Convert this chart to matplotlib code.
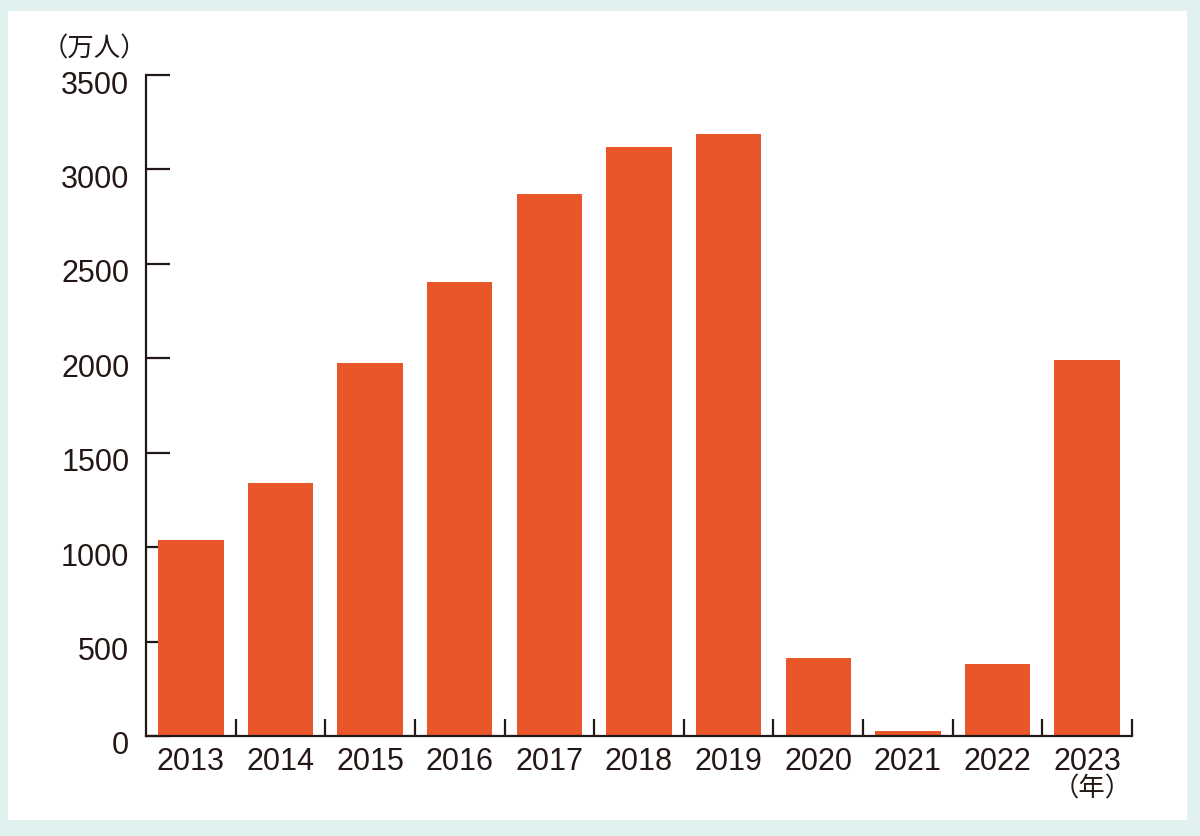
import matplotlib.pyplot as plt
import matplotlib.patches as mpatches
import matplotlib.transforms as mtransforms
import numpy as np

plt.rcParams['font.family'] = ['Liberation Sans', 'Noto Sans CJK JP', 'DejaVu Sans']

years = ['2013', '2014', '2015', '2016', '2017', '2018', '2019', '2020', '2021', '2022', '2023']
visitors = [1036, 1341, 1974, 2404, 2869, 3119, 3188, 412, 25, 383, 1991]  # 万人
yticks = [0, 500, 1000, 1500, 2000, 2500, 3000, 3500]

bar_color = '#E8562A'
bg_color = '#E1F1EF'
ink = '#231815'

fig = plt.figure(figsize=(12, 8.36), dpi=100)
fig.patch.set_facecolor(bg_color)
# white panel behind the chart
fig.patches.append(mpatches.Rectangle((8 / 1200, 16 / 836), 1179 / 1200, 809 / 836,
                                      transform=fig.transFigure, facecolor='white',
                                      edgecolor='none', zorder=-10))

ax = fig.add_axes([146 / 1200, 1 - 736 / 836, 986 / 1200, 661 / 836])
ax.set_facecolor('none')
ax.set_zorder(5)

x = np.arange(len(years))
ax.bar(x, visitors, width=0.73, color=bar_color, zorder=2)

ax.set_xlim(-0.5, len(years) - 0.5)
ax.set_ylim(0, 3500)

for s in ['top', 'right']:
    ax.spines[s].set_visible(False)
for s in ['left', 'bottom']:
    ax.spines[s].set_linewidth(1.6)
    ax.spines[s].set_color(ink)

ax.set_yticks(yticks)
ax.set_yticklabels([str(v) for v in yticks])
ax.tick_params(axis='y', direction='in', length=17, width=1.6, pad=12,
               labelsize=22, colors=ink)
# labels sit a little below their ticks in the original
shift = mtransforms.ScaledTranslation(0, -7 / 100, fig.dpi_scale_trans)
for lab in ax.get_yticklabels():
    lab.set_transform(lab.get_transform() + shift)

ax.set_xticks(x)
ax.set_xticklabels(years)
ax.tick_params(axis='x', which='major', length=0, pad=8, labelsize=22, colors=ink)
ax.set_xticks(list(x + 0.5), minor=True)
ax.tick_params(axis='x', which='minor', direction='in', length=12, width=1.6, colors=ink)

fig.text(94 / 1200, 1 - 49 / 836, '（万人）', ha='center', va='center', fontsize=19,
         color=ink, family=['Noto Sans CJK JP', 'DejaVu Sans'])
fig.text(1092 / 1200, 1 - 789 / 836, '（年）', ha='center', va='center', fontsize=19,
         color=ink, family=['Noto Sans CJK JP', 'DejaVu Sans'])

fig.savefig('out.png', dpi=100, facecolor=bg_color)
